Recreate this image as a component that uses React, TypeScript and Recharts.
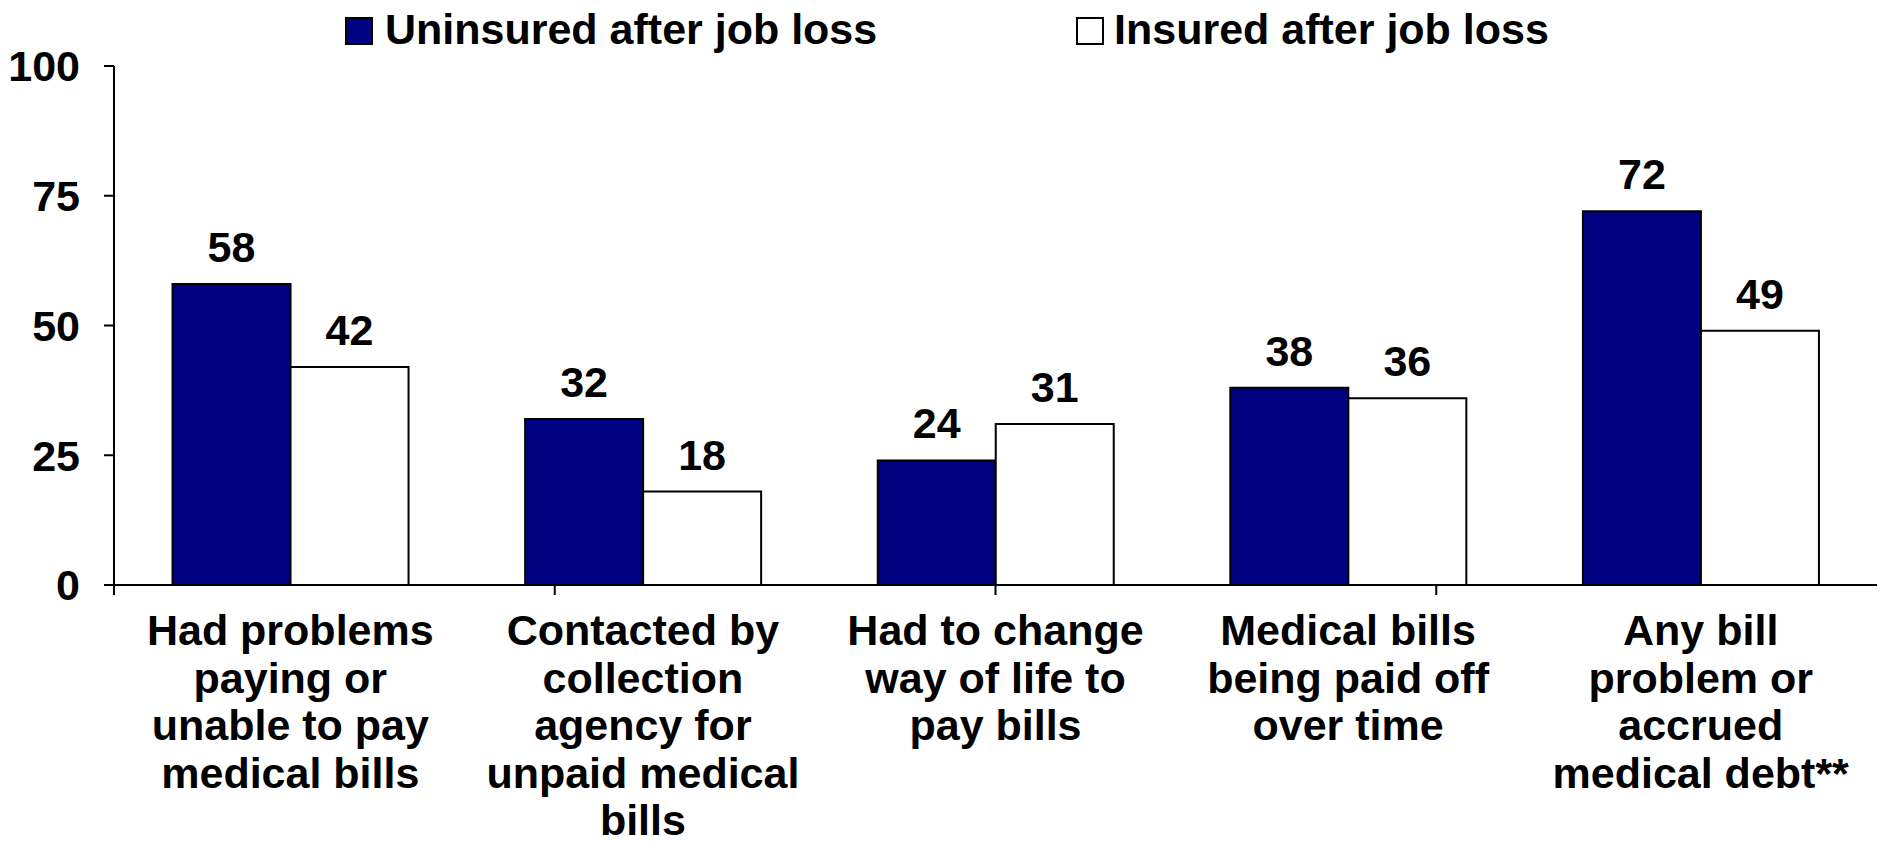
import React from 'react';
import { BarChart, Bar, XAxis, YAxis, LabelList } from 'recharts';

const categories = [
  'Had problems paying or unable to pay medical bills',
  'Contacted by collection agency for unpaid medical bills',
  'Had to change way of life to pay bills',
  'Medical bills being paid off over time',
  'Any bill problem or accrued medical debt**',
];
const categoryLines = [
  ['Had problems', 'paying or', 'unable to pay', 'medical bills'],
  ['Contacted by', 'collection', 'agency for', 'unpaid medical', 'bills'],
  ['Had to change', 'way of life to', 'pay bills'],
  ['Medical bills', 'being paid off', 'over time'],
  ['Any bill', 'problem or', 'accrued', 'medical debt**'],
];
const uninsured = [58, 32, 24, 38, 72];
const insured = [42, 18, 31, 36, 49];
const yTicks = [0, 25, 50, 75, 100];
const edgeTicks = [0, 1, 2, 3, 4, 5];
const seriesNames = ['Uninsured after job loss', 'Insured after job loss'];

const data = categories.map((name, i) => ({
  name,
  idx: i,
  uninsured: uninsured[i],
  insured: insured[i],
}));

const FONT = '"Liberation Sans", Arial, Helvetica, sans-serif';
const NAVY = '#000080';

const CategoryTick = (props: any) => {
  const { x, y, payload } = props;
  const i = categories.indexOf(payload.value);
  const lines = categoryLines[i] || [payload.value];
  return (
    <text x={x} y={y} textAnchor="middle" fontFamily={FONT} fontWeight="bold" fontSize={43} fill="#000">
      {lines.map((l, k) => (
        <tspan key={k} x={x} dy={k === 0 ? 48 : 47.5}>
          {l}
        </tspan>
      ))}
    </text>
  );
};

const EmptyTick = () => <g />;

const LegendItem = ({ left, textLeft, color, label }: any) => (
  <>
    <div
      style={{
        position: 'absolute',
        left,
        top: 17,
        width: 24,
        height: 24,
        background: color,
        border: '2px solid #000',
      }}
    />
    <div
      style={{
        position: 'absolute',
        left: textLeft,
        top: 7.6,
        fontFamily: FONT,
        fontWeight: 'bold',
        fontSize: 43,
        lineHeight: '43px',
        whiteSpace: 'nowrap',
        color: '#000',
      }}
    >
      {label}
    </div>
  </>
);

export default function App() {
  return (
    <div style={{ position: 'absolute', left: 0, top: 0, width: 1879, height: 845, background: '#fff' }}>
      <BarChart
        width={1879}
        height={845}
        data={data}
        margin={{ top: 66, right: 2, left: 0, bottom: 0 }}
        barCategoryGap="16.6%"
        barGap={0}
      >
        <XAxis
          xAxisId={0}
          type="number"
          domain={[0, 5]}
          ticks={edgeTicks}
          tick={<EmptyTick />}
          tickSize={10}
          height={12}
          axisLine={{ stroke: '#000', strokeWidth: 2 }}
          tickLine={{ stroke: '#000', strokeWidth: 2 }}
          allowDataOverflow
        />
        <XAxis
          xAxisId="cat"
          dataKey="name"
          type="category"
          axisLine={false}
          tickLine={false}
          tickSize={0}
          tickMargin={0}
          height={248}
          interval={0}
          tick={<CategoryTick />}
        />
        <YAxis
          domain={[0, 100]}
          ticks={yTicks}
          width={114}
          tickSize={10}
          tickMargin={24}
          axisLine={{ stroke: '#000', strokeWidth: 2 }}
          tickLine={{ stroke: '#000', strokeWidth: 2 }}
          tick={{ fill: '#000', fontSize: 43, fontWeight: 'bold', fontFamily: FONT }}
        />
        <Bar
          xAxisId="cat"
          dataKey="uninsured"
          name={seriesNames[0]}
          fill={NAVY}
          stroke="#000"
          strokeWidth={2}
          isAnimationActive={false}
        >
          <LabelList
            dataKey="uninsured"
            position="top"
            offset={22}
            fill="#000"
            fontSize={43}
            fontWeight="bold"
            fontFamily={FONT}
          />
        </Bar>
        <Bar
          xAxisId="cat"
          dataKey="insured"
          name={seriesNames[1]}
          fill="#fff"
          stroke="#000"
          strokeWidth={2}
          isAnimationActive={false}
        >
          <LabelList
            dataKey="insured"
            position="top"
            offset={22}
            fill="#000"
            fontSize={43}
            fontWeight="bold"
            fontFamily={FONT}
          />
        </Bar>
      </BarChart>
      <LegendItem left={345} textLeft={385} color={NAVY} label={seriesNames[0]} />
      <LegendItem left={1076} textLeft={1114} color="#fff" label={seriesNames[1]} />
    </div>
  );
}
